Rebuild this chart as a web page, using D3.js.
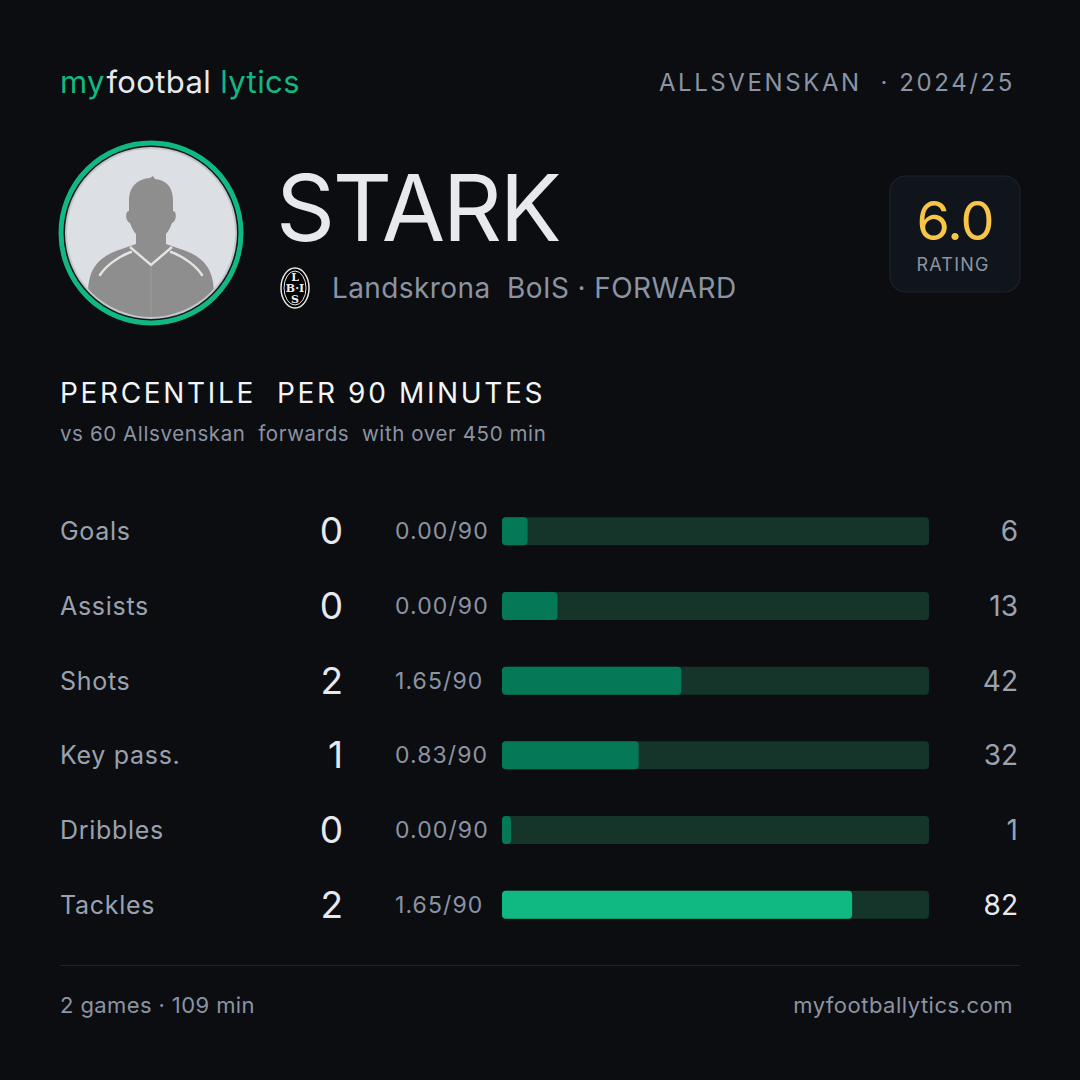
<!DOCTYPE html>
<head>
    <title>Player percentile card</title>
    <meta charset="utf-8">
    <style>
        html, body { margin: 0; padding: 0; background: #0b0d11; }
        svg { display: block; font-family: Inter, "Noto Sans", sans-serif; }
        svg text { white-space: pre; }
    </style>
</head>
<body>
    <div id="chart"></div>
    <script src="https://d3js.org/d3.v7.min.js"></script>
    <script>
        // data
        var metrics = ["Goals", "Assists", "Shots", "Key pass.", "Dribbles", "Tackles"];
        var totals = [0, 0, 2, 1, 0, 2];
        var per90 = ["0.00/90", "0.00/90", "1.65/90", "0.83/90", "0.00/90", "1.65/90"];
        var percentiles = [6, 13, 42, 32, 1, 82];

        var playerName = "STARK";
        var teamName = "Landskrona  BoIS";
        var position = "FORWARD";
        var league = "ALLSVENSKAN";
        var season = "2024/25";
        var rating = "6.0";
        var games = 2, minutes = 109;

        var W = 1080, H = 1080;
        var green = "#10b981", greenDark = "#047857", track = "#16352a";
        var grey = "#8b94a3", light = "#e7e9ee";

        var svg = d3.select("#chart").append("svg")
            .attr("width", W).attr("height", H);

        svg.append("rect").attr("width", W).attr("height", H).attr("fill", "#0b0d11");

        // logo
        var logo = svg.append("text").attr("x", 60).attr("y", 93)
            .style("font-size", "31px").style("letter-spacing", "0.4px");
        logo.append("tspan").attr("fill", green).text("my");
        logo.append("tspan").attr("fill", light).attr("dx", 1).text("footbal");
        logo.append("tspan").attr("fill", green).attr("dx", 9).text("lytics");

        svg.append("text").attr("x", 1015).attr("y", 91)
            .attr("text-anchor", "end").attr("fill", grey)
            .style("font-size", "24px").style("letter-spacing", "2.6px")
            .text(league + "  \u00b7 " + season);

        // avatar
        var av = svg.append("g").attr("transform", "translate(151,233)");
        av.append("circle").attr("r", 90).attr("fill", "none").attr("stroke", green).attr("stroke-width", 5);
        av.append("circle").attr("r", 87).attr("fill", "#1a1c20");
        av.append("circle").attr("r", 86).attr("fill", "#c3c6cb");
        av.append("circle").attr("r", 84).attr("fill", "#dcdfe4");
        av.append("clipPath").attr("id", "avclip").append("circle").attr("r", 84);
        var sil = av.append("g").attr("clip-path", "url(#avclip)");
        // body
        sil.append("path").attr("fill", "#8e8e8e")
            .attr("d", "M-63,100 L-63,62 C-63,38 -55,26 -35,18 L-15,11 L-15,-6 L15,-6 L15,11 L35,18 C55,26 63,38 63,62 L63,100 Z");
        // head
        sil.append("path").attr("fill", "#8e8e8e")
            .attr("d", "M-22,-32 C-22,-48 -12,-54 -1,-55 L2,-57 L4,-54 C16,-53 22,-45 22,-32 L22,-22 C26,-22 26,-12 21,-10 C17,2 9,8 0,8 C-9,8 -17,2 -21,-10 C-26,-12 -26,-22 -22,-22 Z");
        // collar and shoulder lines
        sil.append("path").attr("fill", "none").attr("stroke", "#e4e4e4").attr("stroke-width", 2.4)
            .attr("d", "M-21,14 L0,32 L21,14");
        sil.append("path").attr("fill", "none").attr("stroke", "#e4e4e4").attr("stroke-width", 2.4)
            .attr("stroke-linecap", "round")
            .attr("d", "M-20,19 C-34,24 -46,34 -51,42 M20,19 C34,24 46,34 51,42");
        sil.append("line").attr("x1", 0).attr("x2", 0).attr("y1", 34).attr("y2", 100)
            .attr("stroke", "#9a9a9a").attr("stroke-width", 1);

        // name
        svg.append("text").attr("x", 276).attr("y", 241).attr("fill", light)
            .style("font-size", "92px").style("letter-spacing", "-2.4px")
            .text(playerName);

        // club badge
        var badge = svg.append("g").attr("transform", "translate(295,288)");
        badge.append("ellipse").attr("rx", 14).attr("ry", 20).attr("fill", "#000").attr("stroke", "#e8e8e8").attr("stroke-width", 1.5);
        badge.append("ellipse").attr("rx", 11).attr("ry", 17).attr("fill", "none").attr("stroke", "#e8e8e8").attr("stroke-width", 1);
        [["L", -7], ["B\u00b7I", 4], ["S", 15]].forEach(function (t) {
            badge.append("text").attr("y", t[1]).attr("text-anchor", "middle")
                .attr("fill", "#f0f0f0").style("font-size", "11px").style("font-weight", "bold")
                .style("font-family", "'DejaVu Serif', serif")
                .text(t[0]);
        });

        svg.append("text").attr("x", 332).attr("y", 298).attr("fill", grey)
            .style("font-size", "28px").style("letter-spacing", "0.4px")
            .text(teamName + " \u00b7 " + position);

        // rating box
        svg.append("rect").attr("x", 890).attr("y", 176).attr("width", 130).attr("height", 116)
            .attr("rx", 16).attr("fill", "#10141b").attr("stroke", "#1e232c").attr("stroke-width", 1.2);
        svg.append("text").attr("x", 955).attr("y", 240).attr("text-anchor", "middle")
            .attr("fill", "#f7c548").style("font-size", "54px").style("letter-spacing", "-1px").text(rating);
        svg.append("text").attr("x", 953).attr("y", 271).attr("text-anchor", "middle")
            .attr("fill", grey).style("font-size", "18px").style("letter-spacing", "1.2px").text("RATING");

        // section title
        svg.append("text").attr("x", 60).attr("y", 403).attr("fill", "#f3f4f6")
            .style("font-size", "28px").style("letter-spacing", "2.65px")
            .text("PERCENTILE  PER 90 MINUTES");
        svg.append("text").attr("x", 60).attr("y", 441).attr("fill", grey)
            .style("font-size", "20.5px").style("letter-spacing", "0.6px")
            .text("vs 60 Allsvenskan  forwards  with over 450 min");

        // rows
        var rows = metrics.map(function (m, i) {
            return { metric: m, total: totals[i], per90: per90[i], pct: percentiles[i] };
        });

        var y = d3.scaleBand().domain(metrics).range([494, 942]).padding(0);
        var x = d3.scaleLinear().domain([0, 100]).range([502, 929]);
        var barH = 28;

        var row = svg.selectAll(".row").data(rows).enter().append("g")
            .attr("class", "row")
            .attr("transform", function (d) { return "translate(0," + (y(d.metric) + y.bandwidth() / 2) + ")"; });

        row.append("text").attr("x", 60).attr("y", 9).attr("fill", "#9aa2af")
            .style("font-size", "25px").style("letter-spacing", "0.7px").text(function (d) { return d.metric; });

        row.append("text").attr("x", 343).attr("y", 13).attr("text-anchor", "end").attr("fill", light)
            .style("font-size", "37px").text(function (d) { return d.total; });

        row.append("text").attr("x", 395).attr("y", 8).attr("fill", "#8b94a3")
            .style("font-size", "23px").style("letter-spacing", "1.1px").text(function (d) { return d.per90; });

        row.append("rect").attr("x", x(0)).attr("y", -barH / 2)
            .attr("width", x(100) - x(0)).attr("height", barH).attr("rx", 4).attr("fill", track);

        row.append("rect").attr("x", x(0)).attr("y", -barH / 2)
            .attr("width", function (d) { return Math.max(x(d.pct) - x(0), 9); })
            .attr("height", barH).attr("rx", 4)
            .attr("fill", function (d) { return d.pct >= 70 ? green : greenDark; });

        row.append("text").attr("x", 1018).attr("y", 10).attr("text-anchor", "end")
            .attr("fill", function (d) { return d.pct >= 70 ? light : "#9aa2af"; })
            .style("font-size", "28px").text(function (d) { return d.pct; });

        // footer
        svg.append("line").attr("x1", 60).attr("x2", 1020).attr("y1", 965.5).attr("y2", 965.5)
            .attr("stroke", "#1f232c").attr("stroke-width", 1);
        svg.append("text").attr("x", 60).attr("y", 1013).attr("fill", grey)
            .style("font-size", "22px").style("letter-spacing", "0.4px")
            .text(games + " games \u00b7 " + minutes + " min");
        svg.append("text").attr("x", 1013).attr("y", 1013).attr("text-anchor", "end").attr("fill", grey)
            .style("font-size", "22px").style("letter-spacing", "0.5px")
            .text("myfootballytics.com");
    </script>
</body>
</html>
